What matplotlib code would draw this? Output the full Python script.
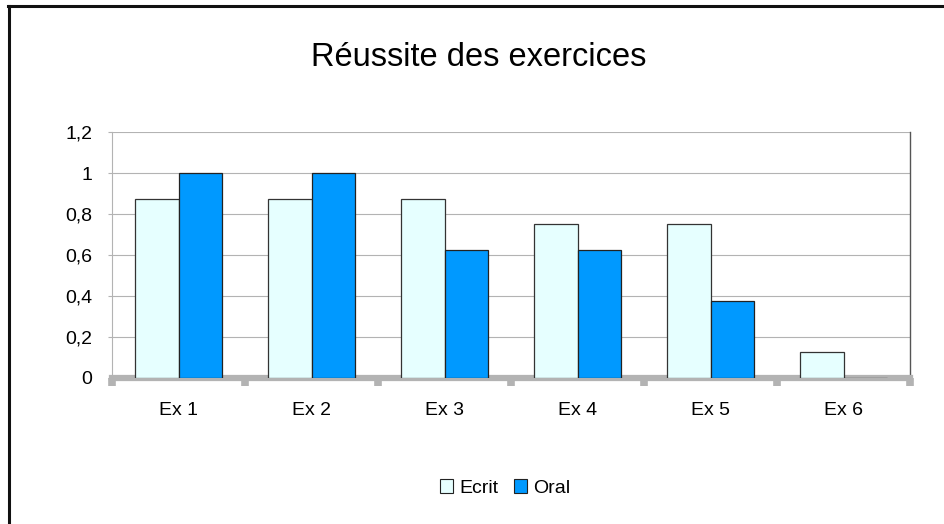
import numpy as np
import matplotlib.pyplot as plt
from matplotlib.lines import Line2D
from matplotlib.patches import Patch
from matplotlib.ticker import FuncFormatter

plt.rcParams['font.family'] = ['Liberation Sans', 'DejaVu Sans']

# taux de réussite par exercice
exercices = ['Ex 1', 'Ex 2', 'Ex 3', 'Ex 4', 'Ex 5', 'Ex 6']
ecrit = [0.875, 0.875, 0.875, 0.75, 0.75, 0.125]
oral = [1, 1, 0.625, 0.625, 0.375, 0]

col_ecrit = '#e6ffff'
col_oral = '#0099ff'
gris = '#b3b3b3'

fig = plt.figure(figsize=(9.44, 5.24), dpi=100)
ax = fig.add_axes([112/944, 1 - 378/524, (910-112)/944, (378-132)/524])

x = np.arange(len(exercices))
w = 0.33
ax.bar(x - w/2, ecrit, w, color=col_ecrit, edgecolor='#333333', linewidth=0.9, zorder=3)
ax.bar(x + w/2, oral, w, color=col_oral, edgecolor='#222222', linewidth=0.9, zorder=3)

ax.set_xlim(-0.5, len(exercices) - 0.5)
ax.set_ylim(0, 1.2)
ax.set_yticks(np.arange(0, 1.21, 0.2))
ax.yaxis.set_major_formatter(FuncFormatter(lambda v, p: ('%g' % round(v, 1)).replace('.', ',')))
ax.grid(axis='y', color=gris, linewidth=0.8, zorder=0)
ax.tick_params(axis='y', length=3, width=0.8, color=gris, labelsize=14, pad=11)

# graduations grises entre les catégories, libellés au centre
ax.set_xticks(np.arange(-0.5, len(exercices)), minor=False)
ax.set_xticklabels([])
ax.set_xticks(x, minor=True)
ax.set_xticklabels(exercices, minor=True)
ax.tick_params(axis='x', which='major', length=6, width=5.5, color=gris, direction='out')
ax.tick_params(axis='x', which='minor', length=0, labelsize=14, pad=17)

ax.spines['top'].set_visible(False)
ax.spines['left'].set_color(gris)
ax.spines['left'].set_linewidth(0.8)
ax.spines['right'].set_color('#555555')
ax.spines['right'].set_linewidth(1.0)
ax.spines['bottom'].set_color(gris)
ax.spines['bottom'].set_linewidth(4.5)
ax.spines['bottom'].set_capstyle('projecting')
ax.spines['bottom'].set_zorder(2.5)

fig.text(479/944, 1 - 57/524, 'Réussite des exercices', ha='center', va='center', fontsize=23.5)

handles = [Patch(facecolor=col_ecrit, edgecolor='#222222', linewidth=0.8),
           Patch(facecolor=col_oral, edgecolor='#222222', linewidth=0.8)]
fig.legend(handles, ['Ecrit', 'Oral'], loc='center', bbox_to_anchor=(505/944, 1 - 488/524),
           ncol=2, frameon=False, fontsize=14, handlelength=0.7, handleheight=0.7,
           handletextpad=0.3, columnspacing=0.8)

# cadre du graphique (bords gauche et haut)
fig.add_artist(Line2D([9/944, 9/944], [0, 1 - 6/524], color='#111111', linewidth=2.2))
fig.add_artist(Line2D([8/944, 1], [1 - 6/524, 1 - 6/524], color='#111111', linewidth=2.2))

fig.savefig('out.png', dpi=100)
